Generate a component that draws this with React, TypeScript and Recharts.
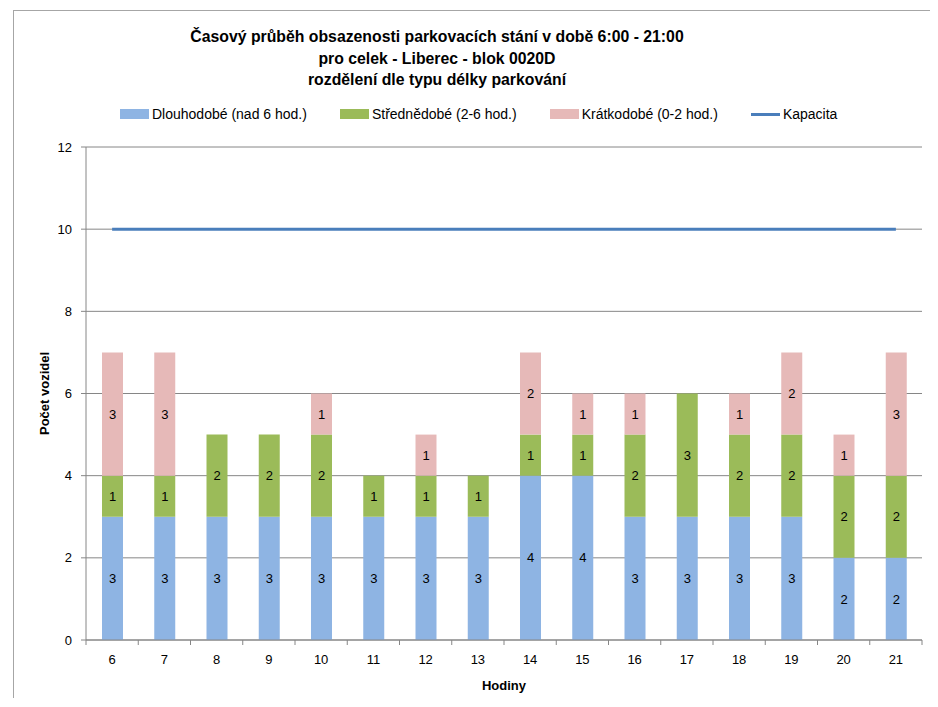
import {
  ComposedChart,
  Bar,
  Line,
  XAxis,
  YAxis,
  CartesianGrid,
  Legend,
  LabelList,
} from "recharts";

const hours = ["6", "7", "8", "9", "10", "11", "12", "13", "14", "15", "16", "17", "18", "19", "20", "21"];
const longTerm = [3, 3, 3, 3, 3, 3, 3, 3, 4, 4, 3, 3, 3, 3, 2, 2];
const midTerm = [1, 1, 2, 2, 2, 1, 1, 1, 1, 1, 2, 3, 2, 2, 2, 2];
const shortTerm = [3, 3, 0, 0, 1, 0, 1, 0, 2, 1, 1, 0, 1, 2, 1, 3];
const capacity = [10, 10, 10, 10, 10, 10, 10, 10, 10, 10, 10, 10, 10, 10, 10, 10];
const yTicks = [0, 2, 4, 6, 8, 10, 12];

const titleLines = [
  "Časový průběh obsazenosti parkovacích stání v době 6:00 - 21:00",
  "pro celek - Liberec - blok 0020D",
  "rozdělení dle typu délky parkování",
];

const data = hours.map((h, i) => ({
  hour: h,
  long: longTerm[i],
  mid: midTerm[i],
  short: shortTerm[i],
  cap: capacity[i],
}));

const FONT = "'Liberation Sans', Arial, sans-serif";
const W = 922;
const H = 690;
// legend (top) adds its own height to the top offset
const margin = { top: 123, right: 8, bottom: 8, left: 28 };
const yAxisW = 50;
const band = (W - margin.left - yAxisW - margin.right) / hours.length;
const axisColor = "#868686";

const legendItems = [
  { label: "Dlouhodobé (nad 6 hod.)", color: "#8EB4E3", line: false },
  { label: "Střednědobé (2-6 hod.)", color: "#9BBB59", line: false },
  { label: "Krátkodobé (0-2 hod.)", color: "#E6B9B8", line: false },
  { label: "Kapacita", color: "#4A7EBB", line: true },
];

function ChartLegend() {
  return (
    <div style={{ display: "flex", gap: 33, fontFamily: FONT, fontSize: 14, color: "#000" }}>
      {legendItems.map((it) => (
        <div key={it.label} style={{ display: "flex", alignItems: "center" }}>
          <span
            style={{
              display: "inline-block",
              width: 29,
              height: it.line ? 3 : 10,
              background: it.color,
              marginRight: 3,
            }}
          />
          <span>{it.label}</span>
        </div>
      ))}
    </div>
  );
}

function XTick(props: any) {
  const { x, y, payload, index } = props;
  const axisY = y - 15;
  return (
    <g>
      <line x1={x - band / 2} x2={x - band / 2} y1={axisY} y2={axisY + 5} stroke={axisColor} />
      {index === hours.length - 1 && (
        <line x1={x + band / 2} x2={x + band / 2} y1={axisY} y2={axisY + 5} stroke={axisColor} />
      )}
      <text x={x} y={y} dy="0.71em" textAnchor="middle" fontFamily={FONT} fontSize={13} fill="#000">
        {payload.value}
      </text>
    </g>
  );
}

const hideZero = (v: any) => (v ? v : "");

export default function App() {
  return (
    <div style={{ position: "relative", width: W, height: H }}>
      <div
        style={{
          position: "absolute",
          left: 5,
          top: 2,
          width: 925,
          height: 697,
          borderLeft: "1px solid #a6a6a6",
          borderTop: "1px solid #a6a6a6",
        }}
      />
      <div
        style={{
          position: "absolute",
          left: 0,
          top: 18,
          width: 858,
          textAlign: "center",
          fontFamily: FONT,
          fontWeight: "bold",
          fontSize: 15.8,
          lineHeight: "21.5px",
          color: "#000",
        }}
      >
        {titleLines.map((t) => (
          <div key={t}>{t}</div>
        ))}
      </div>
      <ComposedChart width={W} height={H} data={data} margin={margin}>
        <CartesianGrid vertical={false} stroke={axisColor} />
        <Legend
          verticalAlign="top"
          content={() => <ChartLegend />}
          wrapperStyle={{ top: 98, left: 112, width: "auto" }}
        />
        <XAxis
          dataKey="hour"
          stroke={axisColor}
          tickLine={false}
          tickSize={5}
          tickMargin={10}
          height={50}
          tick={<XTick />}
          label={{
            value: "Hodiny",
            position: "insideBottom",
            offset: 0,
            fill: "#000",
            fontWeight: "bold",
            fontSize: 13,
            fontFamily: FONT,
          }}
        />
        <YAxis
          domain={[0, 12]}
          ticks={yTicks}
          width={yAxisW}
          stroke={axisColor}
          tickSize={5}
          tickMargin={9}
          tick={{ fill: "#000", fontSize: 13, fontFamily: FONT }}
          label={{
            content: (p: any) => {
              const vb = p.viewBox;
              const cx = vb.x + 13;
              const cy = vb.y + vb.height / 2;
              return (
                <text
                  x={cx}
                  y={cy}
                  transform={`rotate(-90 ${cx} ${cy})`}
                  textAnchor="middle"
                  fontFamily={FONT}
                  fontWeight="bold"
                  fontSize={13}
                  fill="#000"
                >
                  Počet vozidel
                </text>
              );
            },
          }}
        />
        <Bar dataKey="long" stackId="a" fill="#8EB4E3" barSize={21} isAnimationActive={false}>
          <LabelList dataKey="long" position="center" fill="#000" fontSize={13} fontFamily={FONT} formatter={hideZero} />
        </Bar>
        <Bar dataKey="mid" stackId="a" fill="#9BBB59" barSize={21} isAnimationActive={false}>
          <LabelList dataKey="mid" position="center" fill="#000" fontSize={13} fontFamily={FONT} formatter={hideZero} />
        </Bar>
        <Bar dataKey="short" stackId="a" fill="#E6B9B8" barSize={21} isAnimationActive={false}>
          <LabelList dataKey="short" position="center" fill="#000" fontSize={13} fontFamily={FONT} formatter={hideZero} />
        </Bar>
        <Line
          dataKey="cap"
          stroke="#4A7EBB"
          strokeWidth={3}
          dot={false}
          activeDot={false}
          isAnimationActive={false}
        />
      </ComposedChart>
    </div>
  );
}
